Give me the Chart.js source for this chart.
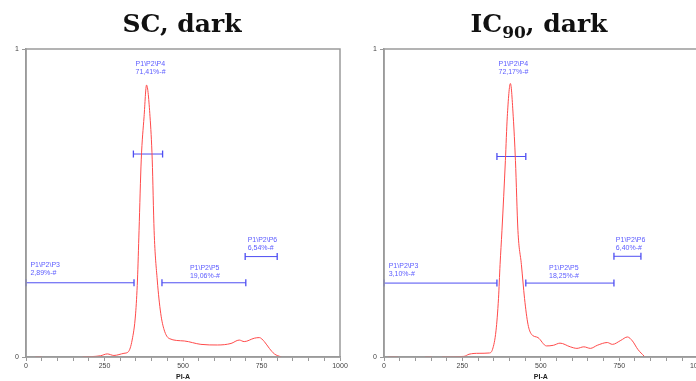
<!DOCTYPE html>
<html>
<head>
<meta charset="utf-8">
<script src="https://cdn.jsdelivr.net/npm/chart.js@4.4.1/dist/chart.umd.min.js"></script>
<style>
  html, body { margin: 0; padding: 0; background: #fff; }
  #wrap { position: relative; width: 696px; height: 381px; overflow: hidden; }
  .panel { position: absolute; top: 0; height: 381px; }
  .ttl { position: absolute; top: 9px; width: 200px; font: bold 25px "DejaVu Serif", serif; line-height: 30px;
         color: #111; white-space: nowrap; text-align: center; }
  .ttl sub { font-size: 17px; vertical-align: -6px; line-height: 0; }
</style>
</head>
<body>
<div id="wrap">
  <div class="panel" style="left:0;width:348px"><canvas id="sc" width="348" height="381"></canvas></div>
  <div class="panel" style="left:348px;width:355px"><canvas id="ic" width="355" height="381"></canvas></div>
  <div class="ttl" style="left:82px">SC, dark</div>
  <div class="ttl" style="left:439px">IC<sub>90</sub>, dark</div>
</div>
<script>
// PI-A histograms (normalised count)
var scPiA   = [30, 50, 100, 180, 237, 259, 280, 312, 326, 338, 349, 355, 360, 367, 376, 384, 395, 402, 408, 418, 429, 440, 456, 504, 557, 610, 653, 679, 695, 727, 743, 759, 775, 791, 813];
var scCount = [0, 0, null, 0, 0.004, 0.01, 0.005, 0.012, 0.017, 0.055, 0.14, 0.25, 0.41, 0.64, 0.78, 0.883, 0.78, 0.64, 0.41, 0.25, 0.142, 0.088, 0.06, 0.052, 0.041, 0.039, 0.044, 0.055, 0.05, 0.061, 0.063, 0.05, 0.028, 0.01, 0];

var icPiA   = [13, 45, 90, 131, 152, 170, 185, 255, 271, 303, 335, 346, 357, 365, 370, 376, 387, 393, 403, 412, 419, 427, 438, 448, 459, 470, 491, 518, 540, 561, 594, 615, 637, 658, 680, 712, 728, 755, 776, 792, 809, 830];
var icCount = [0, 0, null, 0, 0, null, 0, 0.002, 0.009, 0.012, 0.013, 0.025, 0.085, 0.19, 0.30, 0.41, 0.638, 0.78, 0.888, 0.78, 0.638, 0.41, 0.30, 0.19, 0.106, 0.074, 0.063, 0.036, 0.038, 0.045, 0.033, 0.028, 0.033, 0.028, 0.038, 0.047, 0.041, 0.054, 0.065, 0.052, 0.025, 0.002];

// gates
var gateNames = ["P1\\P2\\P3", "P1\\P2\\P4", "P1\\P2\\P5", "P1\\P2\\P6"];
var scGatePct   = ["2,89%-#", "71,41%-#", "19,06%-#", "6,54%-#"];
var scGateFrom  = [0, 342, 433, 698];
var scGateTo    = [344, 435, 700, 800];
var scGateLevel = [0.241, 0.659, 0.241, 0.326];
var scLabelX    = [14, 349, 522, 706];
var scLabelY    = [0.299, 0.951, 0.289, 0.38];

var icGatePct   = ["3,10%-#", "72,17%-#", "18,25%-#", "6,40%-#"];
var icGateFrom  = [0, 360, 452, 733];
var icGateTo    = [360, 452, 733, 819];
var icGateLevel = [0.24, 0.651, 0.24, 0.327];
var icLabelX    = [15, 365, 526, 739];
var icLabelY    = [0.296, 0.951, 0.289, 0.381];

var xLabelEvery = 250;
var axisGrey = "#9a9a9a";
var gateBlue = "#4e4ef2";

const gateText = {
  id: "gateText",
  afterDatasetsDraw(chart, args, opts) {
    const { ctx, chartArea: a } = chart;
    const x = chart.scales.x, y = chart.scales.y;
    ctx.save();
    ctx.strokeStyle = axisGrey;
    ctx.lineWidth = 1.5;
    ctx.strokeRect(a.left, a.top, a.right - a.left, a.bottom - a.top);
    ctx.fillStyle = "#5c5cff";
    ctx.font = '7px "Liberation Sans", Arial, sans-serif';
    ctx.textBaseline = "middle";
    ctx.textAlign = "left";
    opts.names.forEach(function (n, i) {
      const px = x.getPixelForValue(opts.lx[i]);
      const py = y.getPixelForValue(opts.ly[i]);
      ctx.fillText(n, px, py);
      ctx.fillText(opts.pct[i], px, py + 8);
    });
    ctx.restore();
  }
};

function makeChart(id, piA, count, from, to, level, pct, lx, ly, axisW, padRight) {
  let datasets = [{
    data: piA.map((v, i) => ({ x: v, y: count[i] })),
    borderColor: "#ff4a4a",
    borderWidth: 1,
    pointRadius: 0,
    spanGaps: false,
    cubicInterpolationMode: "monotone"
  }];
  from.forEach(function (f, i) {
    datasets.push({
      data: [{ x: f, y: level[i] }, { x: to[i], y: level[i] }],
      borderColor: gateBlue,
      borderWidth: 1,
      pointStyle: "line",
      rotation: 90,
      pointRadius: 3.5,
      pointBorderColor: gateBlue,
      pointBorderWidth: 1.3,
      clip: 6
    });
  });

  return new Chart(document.getElementById(id), {
    type: "line",
    data: { datasets: datasets },
    plugins: [gateText],
    options: {
      responsive: false,
      animation: false,
      events: [],
      layout: { padding: { top: 49, right: padRight, left: 0, bottom: 0 } },
      plugins: {
        legend: { display: false },
        tooltip: { enabled: false },
        gateText: { names: gateNames, pct: pct, lx: lx, ly: ly }
      },
      scales: {
        x: {
          type: "linear",
          min: 0,
          max: 1000,
          ticks: {
            stepSize: 50,
            maxTicksLimit: 30,
            autoSkip: false,
            maxRotation: 0,
            padding: 1,
            color: "#444",
            font: { family: "Liberation Sans", size: 7 },
            callback: function (v) { return v % xLabelEvery === 0 ? v : ""; }
          },
          grid: { drawOnChartArea: false, drawTicks: true, tickLength: 4, color: axisGrey },
          border: { color: axisGrey, width: 1.5 },
          title: { display: true, text: "PI-A", color: "#222", padding: 0,
                   font: { family: "Liberation Sans", size: 7, weight: "bold" } },
          afterFit: function (s) { s.height = 24; s.paddingLeft = 0; s.paddingRight = 0; }
        },
        y: {
          min: 0,
          max: 1,
          ticks: {
            stepSize: 1,
            padding: 3,
            color: "#444",
            font: { family: "Liberation Sans", size: 7 }
          },
          grid: { drawOnChartArea: false, drawTicks: true, tickLength: 4, color: axisGrey },
          border: { color: axisGrey, width: 1.5 },
          afterFit: function (s) { s.width = axisW; s.paddingTop = 0; s.paddingBottom = 0; }
        }
      }
    }
  });
}

makeChart("sc", scPiA, scCount, scGateFrom, scGateTo, scGateLevel, scGatePct, scLabelX, scLabelY, 26, 8);
makeChart("ic", icPiA, icCount, icGateFrom, icGateTo, icGateLevel, icGatePct, icLabelX, icLabelY, 36, 0);
</script>
</body>
</html>
